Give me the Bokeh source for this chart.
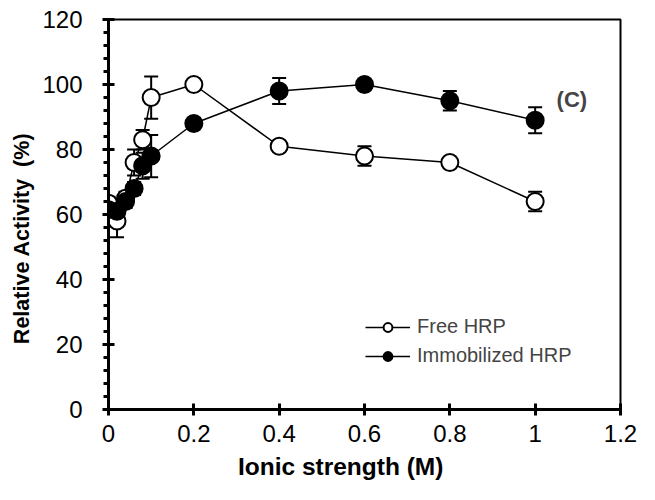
from bokeh.plotting import figure
from bokeh.models import (ColumnDataSource, FixedTicker, Whisker, TeeHead, Legend,
                          LegendItem, Label)
from bokeh.embed import file_html
from bokeh.resources import INLINE

ionic = [0, 0.02, 0.04, 0.06, 0.08, 0.1, 0.2, 0.4, 0.6, 0.8, 1.0]
free_hrp = [63.5, 58, 65, 76, 83, 96, 100, 81, 78, 76, 64]
free_err = [2, 5, 2, 4, 3, 6.5, 1, 1, 3, 1, 3]
immob_hrp = [61.5, 61, 64, 68, 75, 78, 88, 98, 100, 95, 89]
immob_err = [2, 2, 2, 2, 4, 6.5, 1, 4, 1, 3, 4]

x_ticks = [0, 0.2, 0.4, 0.6, 0.8, 1.0, 1.2]
x_labels = ["0", "0.2", "0.4", "0.6", "0.8", "1", "1.2"]
y_ticks = [0, 20, 40, 60, 80, 100, 120]

FONT = "Liberation Sans"
NB = "\u00a0"

p = figure(width=639, height=484, output_backend="svg", toolbar_location=None,
           x_range=(0, 1.2), y_range=(0, 120),
           min_border_left=108, min_border_right=19, min_border_top=19,
           min_border_bottom=75)
p.grid.visible = False
p.outline_line_color = "black"
p.outline_line_width = 2
p.background_fill_color = "white"
p.border_fill_color = "white"

# axes
p.xaxis.ticker = FixedTicker(ticks=x_ticks)
p.xaxis.major_label_overrides = {t: l for t, l in zip(x_ticks, x_labels)}
p.yaxis.ticker = FixedTicker(ticks=y_ticks,
                             minor_ticks=[i * 4 for i in range(31)])
for ax in (p.xaxis[0], p.yaxis[0]):
    ax.axis_line_width = 3
    ax.axis_line_color = "black"
    ax.major_tick_in = 6
    ax.major_tick_out = 6
    ax.major_tick_line_width = 3
    ax.major_label_text_font = FONT
    ax.major_label_text_font_size = "24px"
    ax.major_label_text_color = "black"
    ax.axis_label_text_font = FONT
    ax.axis_label_text_font_style = "bold"
    ax.axis_label_text_color = "black"
p.xaxis.axis_label_text_font_size = "24.5px"
p.yaxis.axis_label_text_font_size = "21.5px"
p.xaxis.minor_tick_line_color = None
p.yaxis.minor_tick_in = 0
p.yaxis.minor_tick_out = 5
p.yaxis.minor_tick_line_width = 3
p.xaxis.major_label_standoff = 9
p.yaxis.major_label_standoff = 20
p.xaxis.axis_label = "Ionic strength (M)" + NB * 7
p.yaxis.axis_label = "Relative Activity" + NB * 2 + "(%)" + NB * 8
p.xaxis.axis_label_standoff = 8
p.yaxis.axis_label_standoff = 5

src_f = ColumnDataSource(dict(x=ionic, y=free_hrp,
                              lo=[a - b for a, b in zip(free_hrp, free_err)],
                              hi=[a + b for a, b in zip(free_hrp, free_err)]))
src_i = ColumnDataSource(dict(x=ionic, y=immob_hrp,
                              lo=[a - b for a, b in zip(immob_hrp, immob_err)],
                              hi=[a + b for a, b in zip(immob_hrp, immob_err)]))

for src in (src_f, src_i):
    w = Whisker(source=src, base="x", lower="lo", upper="hi",
                line_color="black", line_width=2,
                upper_head=TeeHead(size=14, line_color="black", line_width=2),
                lower_head=TeeHead(size=14, line_color="black", line_width=2))
    p.add_layout(w)

lf = p.line("x", "y", source=src_f, line_color="black", line_width=1.5)
sf = p.scatter("x", "y", source=src_f, size=17, fill_color="white",
               line_color="black", line_width=2)
li = p.line("x", "y", source=src_i, line_color="black", line_width=1.5)
si = p.scatter("x", "y", source=src_i, size=17, fill_color="black",
               line_color="black", line_width=2)

legend = Legend(items=[LegendItem(label="Free HRP", renderers=[lf, sf]),
                       LegendItem(label="Immobilized HRP", renderers=[li, si])],
                location=(257, 42), border_line_color=None,
                background_fill_alpha=0, label_text_font=FONT,
                label_text_font_size="20px", glyph_width=45, glyph_height=22,
                spacing=6, label_standoff=7, padding=0, margin=0)
p.add_layout(legend)

p.add_layout(Label(x=1.086, y=95.5, text="(C)", text_font=FONT,
                   text_font_size="22px", text_font_style="bold",
                   text_align="center", text_baseline="middle"))

open("out.html", "w").write(file_html(p, INLINE))
